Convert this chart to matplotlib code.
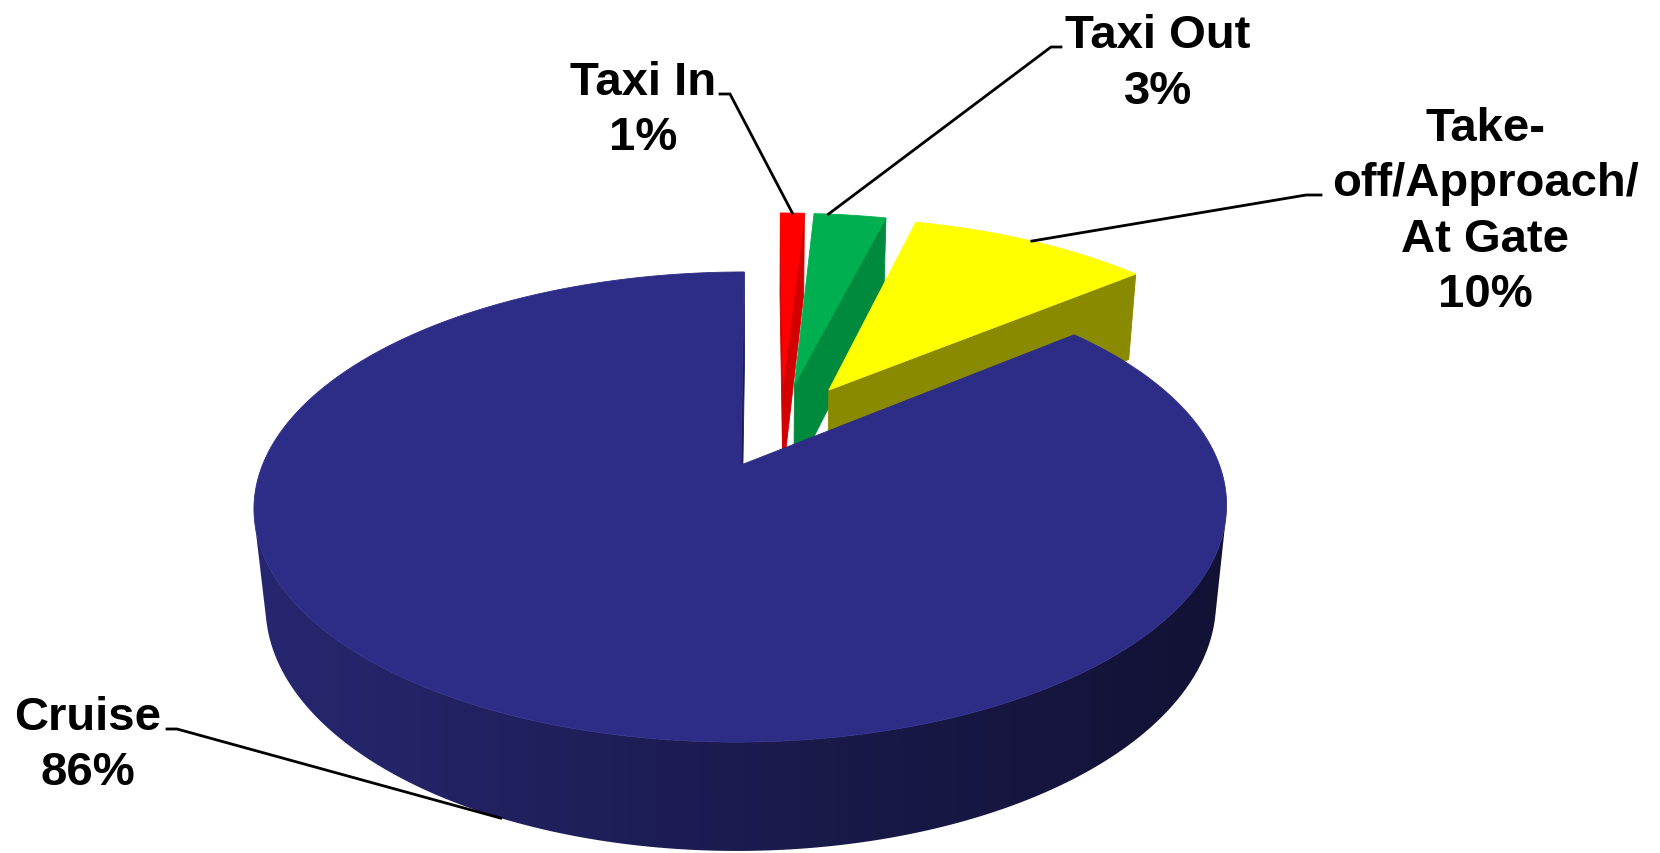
import numpy as np
import matplotlib
matplotlib.use("Agg")
import matplotlib.pyplot as plt
from matplotlib.patches import Polygon
from matplotlib.colors import LinearSegmentedColormap

# ---- data -------------------------------------------------------------
categories = ["Taxi In", "Taxi Out", "Take-\noff/Approach/\nAt Gate", "Cruise"]
shares = [1, 3, 10, 86]
pct_labels = ["1%", "3%", "10%", "86%"]

# ---- styling ----------------------------------------------------------
top_colors = ["#FF0000", "#00B050", "#FFFF00", "#2D2D87"]
side_colors = ["#D20000", "#008A3E", "#8A8A00", "#1C1C52"]
rim_cmap = LinearSegmentedColormap.from_list(
    "rim", ["#272771", "#1B1B4F", "#121235"])   # left -> front -> right
explode = [0.2, 0.2, 0.2, 0.2]
leader_frac = [0.5, 0.8, 0.5, 0.5]            # where along the arc the leader meets
leader_on_bottom = [False, False, False, True]

# label layout (pixel coordinates, first-line baseline)
label_pos = [(643, 95), (1158, 48), (1485, 141), (88, 730)]
tick_pts = [((720, 95), (730, 95)),
            ((1061, 48), (1051, 48)),
            ((1321, 196), (1306, 196)),
            ((167, 730), (177, 730))]
LINE_STEP = 55.5
FONT_SIZE = 34

W, H = 1660, 854
fig = plt.figure(figsize=(W / 100, H / 100), dpi=100)
ax = fig.add_axes([0, 0, 1, 1])
ax.set_xlim(0, W)
ax.set_ylim(H, 0)
ax.axis("off")

# ---- camera -----------------------------------------------------------
elev = np.radians(28.4)
se, ce = np.sin(elev), np.cos(elev)
DIST = 4.92
FOC = 2354.0
THICK = 0.233

total = float(sum(shares))
spans = [360.0 * s / total for s in shares]
a_hi = 90.0 - np.concatenate([[0.0], np.cumsum(spans)[:-1]])
a_lo = a_hi - np.array(spans)
mids = (a_hi + a_lo) / 2.0
offsets = [(e * np.cos(np.radians(m)), e * np.sin(np.radians(m)))
           for e, m in zip(explode, mids)]

# camera aims a little to the right of the largest slice's centre
LOOK_X = offsets[3][0] + 0.045
LOOK_Y = offsets[3][1]
U0, V0 = 762.5, 466.0
CAM = np.array([LOOK_X, LOOK_Y - DIST * ce, DIST * se])


def proj(X, Y, Z):
    X = np.asarray(X, float)
    Y = np.asarray(Y, float)
    Z = np.asarray(Z, float) + 0 * X
    px = X - LOOK_X
    py = Y - LOOK_Y
    yc = py * se + Z * ce
    zc = DIST + py * ce - Z * se
    return U0 + FOC * px / zc, V0 - FOC * yc / zc


def facing(normal, point):
    return np.dot(normal, CAM - np.asarray(point)) > 0


def draw_poly(xs, ys, color, z, lw=0.6):
    p = Polygon(np.column_stack([xs, ys]), closed=True,
                facecolor=color, edgecolor=color, linewidth=lw, zorder=z)
    ax.add_patch(p)
    return p


z = 1
for i in range(len(shares)):
    ox, oy = offsets[i]
    n = max(4, int(abs(spans[i]) * 3))
    th = np.radians(np.linspace(a_lo[i], a_hi[i], n))
    arc_x = ox + np.cos(th)
    arc_y = oy + np.sin(th)

    # radial walls
    for ang, sign in ((a_hi[i], 1), (a_lo[i], -1)):
        r = np.radians(ang)
        nrm = np.array([-np.sin(r), np.cos(r), 0.0]) * sign
        ex, ey = ox + np.cos(r), oy + np.sin(r)
        centre = np.array([(ox + ex) / 2, (oy + ey) / 2, -THICK / 2])
        if facing(nrm, centre):
            u, v = proj([ox, ex, ex, ox], [oy, ey, ey, oy],
                        [0, 0, -THICK, -THICK])
            draw_poly(u, v, side_colors[i], z)
    z += 1

    # outer rim: the part of the curved wall that faces the camera
    tm = (th[:-1] + th[1:]) / 2
    vis = np.array([facing(np.array([np.cos(t), np.sin(t), 0.0]),
                           np.array([ox + np.cos(t), oy + np.sin(t), -THICK / 2]))
                    for t in tm])
    if vis.any():
        idx = np.where(vis)[0]
        j0, j1 = idx.min(), idx.max() + 1
        rx, ry = arc_x[j0:j1 + 1], arc_y[j0:j1 + 1]
        ut, vt = proj(rx, ry, 0.0)
        ub, vb = proj(rx, ry, -THICK)
        xs = np.concatenate([ut, ub[::-1]])
        ys = np.concatenate([vt, vb[::-1]])
        if i == 3:
            rim = draw_poly(xs, ys, "none", z, lw=0)
            grad = np.linspace(0, 1, 512)[None, :]
            im = ax.imshow(grad, cmap=rim_cmap, aspect="auto",
                           extent=(xs.min(), xs.max(), ys.max(), ys.min()),
                           zorder=z, interpolation="bilinear")
            im.set_clip_path(rim)
        else:
            draw_poly(xs, ys, side_colors[i], z)
    z += 1

    # top face
    u, v = proj(np.concatenate([[ox], arc_x]), np.concatenate([[oy], arc_y]), 0.0)
    draw_poly(u, v, top_colors[i], z)
    z += 1

ax.set_xlim(0, W)
ax.set_ylim(H, 0)

# ---- labels and leader lines ----------------------------------------
for i in range(len(shares)):
    ox, oy = offsets[i]
    ang = np.radians(a_lo[i] + leader_frac[i] * (a_hi[i] - a_lo[i]))
    zz = -THICK if leader_on_bottom[i] else 0.0
    eu, ev = proj(ox + np.cos(ang), oy + np.sin(ang), zz)
    (t0x, t0y), (t1x, t1y) = tick_pts[i]
    ax.plot([t0x, t1x, float(eu)], [t0y, t1y, float(ev)], color="black",
            lw=2.0, solid_joinstyle="miter", zorder=50)

    lines = categories[i].split("\n") + [pct_labels[i]]
    lx, ly = label_pos[i]
    for k, line in enumerate(lines):
        ax.text(lx, ly + k * LINE_STEP, line, ha="center", va="baseline",
                fontsize=FONT_SIZE, fontweight="bold",
                family=["Liberation Sans", "DejaVu Sans"], color="black",
                zorder=60)

fig.savefig("out.png", dpi=100, facecolor="white")
